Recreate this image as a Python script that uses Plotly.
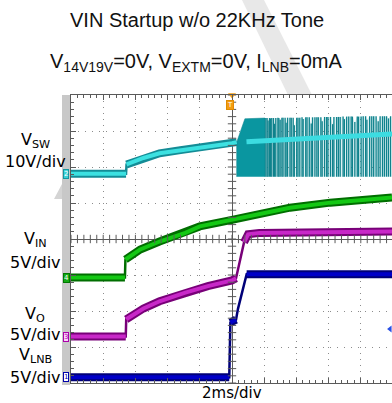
import plotly.graph_objects as go

# ---------------- scope capture: VIN startup, 2 ms/div ----------------
# time in ms (trigger at 0), voltages in volts per channel

vsw_t = [-10.0, -6.58, -6.55, -5.5, -4.5, -3.2, -2.0, -0.8, 0.0, 0.29]
vsw_v = [0.0, 0.0, 2.6, 4.4, 5.7, 6.6, 7.4, 8.0, 8.5, 8.8]

# switching burst on VSW: dense start, then pulse trains up to the screen edge
burst_dense_t = [0.29, 0.8, 2.05]
burst_dense_hi = [8.8, 15.3, 15.5]
burst_lo = -0.8
pulse_t = [2.10, 2.18, 2.24, 2.33, 2.40, 2.47, 2.58, 2.64, 2.72, 2.85, 2.91, 2.99,
           3.10, 3.17, 3.30, 3.36, 3.45, 3.60, 3.68, 3.80, 3.87, 4.02, 4.10, 4.21,
           4.35, 4.42, 4.58, 4.66, 4.80, 4.92, 5.00, 5.15, 5.27, 5.36, 5.52, 5.60,
           5.75, 5.88, 5.96, 6.12, 6.25, 6.33, 6.50, 6.61, 6.72, 6.90, 6.98, 7.12,
           7.25, 7.40, 7.48, 7.63, 7.78, 7.86, 8.02, 8.15, 8.30, 8.38, 8.55, 8.68,
           8.80, 8.95, 9.08, 9.20, 9.35, 9.47, 9.60, 9.72, 9.85]
pulse_hi = [15.5, 15.5, 14.8, 15.5, 15.4, 15.5, 15.5, 13.9, 15.5, 15.6, 15.5, 15.0,
            15.6, 15.6, 15.6, 14.2, 15.6, 15.6, 15.6, 15.6, 13.5, 15.6, 15.6, 15.6,
            15.7, 15.2, 15.7, 15.7, 15.7, 14.0, 15.7, 15.7, 15.7, 15.7, 15.7, 14.6,
            15.8, 15.8, 15.8, 15.8, 13.8, 15.8, 15.8, 15.8, 15.8, 15.9, 15.2, 15.9,
            15.9, 15.9, 15.9, 14.4, 15.9, 15.9, 15.9, 16.0, 16.0, 15.0, 16.0, 16.0,
            16.0, 16.0, 14.6, 16.0, 16.0, 16.0, 16.0, 15.4, 16.0]
vsw_idle_t = [0.9, 2.0, 4.0, 6.0, 8.0, 9.94]
vsw_idle_v = [8.9, 9.2, 9.7, 10.3, 10.8, 11.1]

vin_t = [-10.0, -6.65, -6.62, -5.7, -4.5, -2.9, -2.0, 0.0, 1.7, 3.0, 3.6, 6.1, 9.94]
vin_v = [0.0, 0.0, 2.5, 3.9, 5.0, 6.2, 7.1, 8.0, 8.9, 9.4, 9.7, 10.4, 11.1]

vo_t = [-10.0, -6.6, -6.57, -5.5, -4.5, -2.9, -1.5, 0.0, 0.25, 0.5, 0.75, 1.0, 1.7, 9.94]
vo_v = [0.0, 0.0, 2.4, 3.9, 4.9, 6.1, 7.0, 7.8, 8.1, 10.4, 13.1, 14.2, 14.4, 14.6]

vlnb_t = [-10.0, -0.17, -0.10, 0.25, 0.37, 0.68, 0.91, 9.94]
vlnb_v = [0.0, 0.0, 7.6, 8.0, 9.5, 12.2, 14.3, 14.3]

trig_level_v = 6.7  # trigger level on the VLNB channel

# channel settings: volts/div and ground position in divisions
VSW_SCALE, VSW_POS = 10.0, 1.81
VIN_SCALE, VIN_POS = 5.0, -1.07
VO_SCALE, VO_POS = 5.0, -2.71
VLNB_SCALE, VLNB_POS = 5.0, -3.84

# ---------------- geometry ----------------
W, H = 392, 403
ML, MR, MT, MB = 71, 0, 95, 20
PW, PH = W - ML - MR, H - MT - MB
MS_PER_DIV = 2.0
PX_PER_DIV = 32.2
T_LEFT = -5 * MS_PER_DIV
T_RIGHT = T_LEFT + PW / PX_PER_DIV * MS_PER_DIV


def px(x):
    return (x - ML) / PW


def py(y):
    return (H - MB - y) / PH


def to_div(vals, scale, pos):
    return [v / scale + pos for v in vals]


fig = go.Figure()


def add_channel(t, v, scale, pos, core, edge, thin_w=2.5, thick_w=8, core_w=4):
    y = to_div(v, scale, pos)
    # fast edges drawn thin
    fig.add_trace(go.Scatter(x=t, y=y, mode="lines", hoverinfo="skip",
                             line=dict(color=edge, width=thin_w)))
    xs, ys = [], []
    for i in range(len(t)):
        if i > 0:
            dtd = (t[i] - t[i - 1]) / MS_PER_DIV
            if dtd <= 0 or abs(y[i] - y[i - 1]) / dtd > 2.5:
                xs.append(None)
                ys.append(None)
        xs.append(t[i])
        ys.append(y[i])
    fig.add_trace(go.Scatter(x=xs, y=ys, mode="lines", hoverinfo="skip",
                             line=dict(color=edge, width=thick_w)))
    fig.add_trace(go.Scatter(x=xs, y=ys, mode="lines", hoverinfo="skip",
                             line=dict(color=core, width=core_w)))


# VSW switching burst: solid envelope at the start
dense_x = [burst_dense_t[0]] + burst_dense_t + [burst_dense_t[-1]]
dense_y = to_div([burst_lo] + burst_dense_hi + [burst_lo], VSW_SCALE, VSW_POS)
fig.add_trace(go.Scatter(x=dense_x, y=dense_y, mode="lines", fill="toself",
                         fillcolor="rgb(10,150,160)", line=dict(width=0.5, color="rgb(10,130,140)"),
                         hoverinfo="skip"))
# faint persistence haze behind the pulse trains
haze_x = [pulse_t[0]] + pulse_t + [pulse_t[-1]]
haze_y = to_div([burst_lo] + pulse_hi + [burst_lo], VSW_SCALE, VSW_POS)
fig.add_trace(go.Scatter(x=haze_x, y=haze_y, mode="lines", fill="toself",
                         fillcolor="rgba(40,170,180,0.16)", line=dict(width=0), hoverinfo="skip"))
# individual pulses
sx, sy = [], []
lo_div = burst_lo / VSW_SCALE + VSW_POS
for t, hi in zip(pulse_t, pulse_hi):
    sx += [t, t, None]
    sy += [lo_div, hi / VSW_SCALE + VSW_POS, None]
fig.add_trace(go.Scatter(x=sx, y=sy, mode="lines", hoverinfo="skip",
                         line=dict(color="rgb(15,130,140)", width=1.3)))
idle_y = to_div(vsw_idle_v, VSW_SCALE, VSW_POS)
fig.add_trace(go.Scatter(x=vsw_idle_t, y=idle_y, mode="lines", hoverinfo="skip",
                         line=dict(color="rgb(60,220,225)", width=5)))

add_channel(vsw_t, vsw_v, VSW_SCALE, VSW_POS, "rgb(60,225,225)", "rgb(20,140,150)")
add_channel(vin_t, vin_v, VIN_SCALE, VIN_POS, "rgb(20,200,20)", "rgb(0,110,0)")
add_channel(vo_t, vo_v, VO_SCALE, VO_POS, "rgb(200,40,200)", "rgb(120,0,120)")
add_channel(vlnb_t, vlnb_v, VLNB_SCALE, VLNB_POS, "rgb(0,0,200)", "rgb(0,0,120)")

# graticule tick marks on the centre cross
n_x = int(round((T_RIGHT - T_LEFT) / (MS_PER_DIV / 5)))
cx = [T_LEFT + i * MS_PER_DIV / 5 for i in range(n_x + 1)]
fig.add_trace(go.Scatter(x=cx, y=[0] * len(cx), mode="markers", hoverinfo="skip",
                         marker=dict(symbol="line-ns", size=6, line=dict(width=1, color="#5a5a5a"))))
cy = [-4 + i * 0.2 for i in range(41)]
fig.add_trace(go.Scatter(x=[0] * len(cy), y=cy, mode="markers", hoverinfo="skip",
                         marker=dict(symbol="line-ew", size=6, line=dict(width=1, color="#5a5a5a"))))

# trigger markers
fig.add_trace(go.Scatter(x=[0], y=[4], mode="markers", cliponaxis=False, hoverinfo="skip",
                         marker=dict(symbol="triangle-down", size=7, color="#f39c12")))
fig.add_trace(go.Scatter(x=[T_RIGHT - 0.12], y=to_div([trig_level_v], VLNB_SCALE, VLNB_POS),
                         mode="markers", cliponaxis=False, hoverinfo="skip",
                         marker=dict(symbol="triangle-left", size=6, color="rgb(40,80,230)")))

ann = []
LBL = dict(family="DejaVu Sans", size=16, color="black")


def label(text, y):
    ann.append(dict(text=text, x=px(35), y=py(y), xref="paper", yref="paper",
                    showarrow=False, xanchor="center", yanchor="middle", font=LBL))


label("V<sub>SW</sub>", 140)
label("10V/div", 161)
label("V<sub>IN</sub>", 239)
label("5V/div", 262)
label("V<sub>O</sub>", 314)
label("5V/div", 334)
label("V<sub>LNB</sub>", 355)
label("5V/div", 377)

ann.append(dict(text="2ms/div", x=0, y=py(393), xref="x", yref="paper", showarrow=False,
                xanchor="center", yanchor="middle", font=dict(family="DejaVu Sans", size=15, color="black")))
ann.append(dict(text="VIN Startup w/o 22KHz Tone", x=px(197), y=py(20), xref="paper", yref="paper",
                showarrow=False, xanchor="center", yanchor="middle",
                font=dict(family="Liberation Sans", size=20, color="#111")))
ann.append(dict(text="V<sub>14V19V</sub>=0V, V<sub>EXTM</sub>=0V, I<sub>LNB</sub>=0mA",
                x=px(196), y=py(63), xref="paper", yref="paper", showarrow=False,
                xanchor="center", yanchor="middle",
                font=dict(family="Liberation Sans", size=20, color="#111")))

# channel ground markers
for num, pos, fg, bg, bd in [("2", VSW_POS, "white", "rgb(60,210,215)", "rgb(20,150,160)"),
                             ("4", VIN_POS, "white", "rgb(20,170,20)", "rgb(0,120,0)"),
                             ("3", VO_POS, "rgb(170,0,170)", "rgb(250,210,250)", "rgb(170,0,170)"),
                             ("1", VLNB_POS, "rgb(0,0,170)", "white", "rgb(0,0,170)")]:
    ann.append(dict(text=num, x=px(66), y=pos, xref="paper", yref="y", showarrow=False,
                    xanchor="center", yanchor="middle", font=dict(family="DejaVu Sans", size=7, color=fg),
                    bgcolor=bg, bordercolor=bd, borderwidth=1, borderpad=0))

ann.append(dict(text="T", x=-0.15, y=py(105), xref="x", yref="paper", showarrow=False,
                xanchor="center", yanchor="middle", font=dict(family="DejaVu Sans", size=7, color="white"),
                bgcolor="#f39c12", bordercolor="#e08a00", borderwidth=1, borderpad=0))

shapes = [
    # grey strip left of the screen
    dict(type="rect", xref="paper", yref="paper", x0=px(62), x1=px(70), y0=py(385), y1=py(95),
         fillcolor="#c8c8c8", line=dict(width=0), layer="below"),
    dict(type="path", xref="paper", yref="paper",
         path=f"M {px(62)},{py(184)} L {px(62)},{py(199)} L {px(54)},{py(199)} Z",
         fillcolor="#d4d4d4", line=dict(width=0), layer="below"),
    # faint diagonal watermark stroke above the screen
    dict(type="path", xref="paper", yref="paper",
         path=f"M {px(242)},{py(0)} L {px(264)},{py(0)} L {px(312)},{py(95)} L {px(288)},{py(95)} Z",
         fillcolor="#e8e8e8", line=dict(width=0), layer="below"),
]

fig.update_layout(
    width=W, height=H, margin=dict(l=ML, r=MR, t=MT, b=MB),
    paper_bgcolor="white", plot_bgcolor="white", showlegend=False,
    annotations=ann, shapes=shapes,
    xaxis=dict(range=[T_LEFT, T_RIGHT], dtick=MS_PER_DIV, tick0=0, showticklabels=False,
               showgrid=True, gridcolor="#8c8c8c", griddash="1px,5px", gridwidth=1,
               zeroline=True, zerolinecolor="#5a5a5a", zerolinewidth=1,
               ticks="inside", ticklen=5, tickcolor="#5a5a5a",
               minor=dict(ticks="inside", dtick=MS_PER_DIV / 5, ticklen=3, tickcolor="#5a5a5a", showgrid=False),
               showline=True, linecolor="#5a5a5a", linewidth=1, mirror="ticks", fixedrange=True),
    yaxis=dict(range=[-4, 4], dtick=1, tick0=0, showticklabels=False,
               showgrid=True, gridcolor="#8c8c8c", griddash="1px,6px", gridwidth=1,
               zeroline=True, zerolinecolor="#5a5a5a", zerolinewidth=1,
               ticks="inside", ticklen=5, tickcolor="#5a5a5a",
               minor=dict(ticks="inside", dtick=0.2, ticklen=3, tickcolor="#5a5a5a", showgrid=False),
               showline=True, linecolor="#5a5a5a", linewidth=1, mirror=False, fixedrange=True),
)

fig.write_html("out.html")
